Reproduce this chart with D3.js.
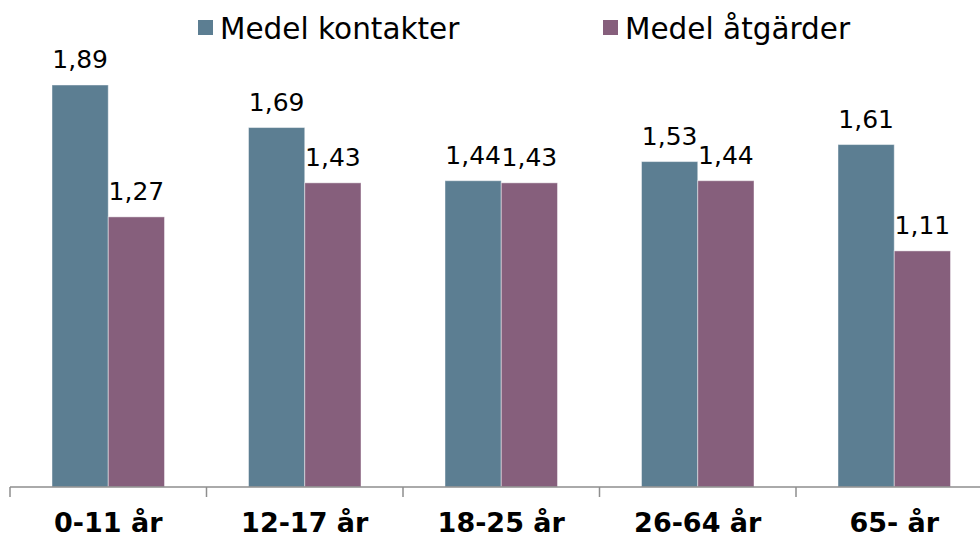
<!DOCTYPE html>
<html>
<head>
<meta charset="utf-8">
<script src="https://cdn.jsdelivr.net/npm/d3@7"></script>
<style>
  body { margin: 0; background: #fff; }
  svg { display: block; font-family: "DejaVu Sans", Verdana, sans-serif; }
</style>
</head>
<body>
<div id="chart"></div>
<script>
var categories = ["0-11 år", "12-17 år", "18-25 år", "26-64 år", "65- år"];
var series = ["Medel kontakter", "Medel åtgärder"];
var kontakter = [1.89, 1.69, 1.44, 1.53, 1.61];
var atgarder = [1.27, 1.43, 1.43, 1.44, 1.11];
var colors = ["#5c7e92", "#865f7c"];

var width = 980, height = 538;
var baseY = 487;

var svg = d3.select("#chart").append("svg")
    .attr("width", width)
    .attr("height", height);

// --
var x0 = d3.scaleBand()
    .domain(categories)
    .range([10, 992.5]);

var x1 = d3.scaleBand()
    .domain(series)
    .range([42, x0.bandwidth() - 42]);

var y = d3.scaleLinear()
    .domain([0, 2])
    .range([baseY, 61.6]);

var rows = categories.map(function(c, i) {
  return { cat: c, values: [kontakter[i], atgarder[i]] };
});

// bars
var groups = svg.selectAll("g.cat")
    .data(rows)
    .enter()
    .append("g")
    .attr("class", "cat")
    .attr("transform", function(d) { return "translate(" + x0(d.cat) + ",0)"; });

groups.selectAll("rect")
    .data(function(d) { return d.values.map(function(v, j) { return { s: series[j], v: v, j: j }; }); })
    .enter()
    .append("rect")
    .attr("x", function(d) { return x1(d.s); })
    .attr("y", function(d) { return y(d.v); })
    .attr("width", x1.bandwidth())
    .attr("height", function(d) { return baseY - y(d.v); })
    .attr("fill", function(d) { return colors[d.j]; })
    .attr("stroke", "rgba(255,255,255,0.45)")
    .attr("stroke-width", 1);

groups.selectAll("text.val")
    .data(function(d) { return d.values.map(function(v, j) { return { s: series[j], v: v }; }); })
    .enter()
    .append("text")
    .attr("class", "val")
    .attr("x", function(d) { return x1(d.s) + x1.bandwidth() / 2; })
    .attr("y", function(d) { return y(d.v) - 17; })
    .attr("text-anchor", "middle")
    .attr("font-size", 25)
    .attr("fill", "#000")
    .text(function(d) { return d.v.toFixed(2).replace(".", ","); });

// axis
var axis = svg.append("g");
axis.append("line")
    .attr("x1", 10).attr("x2", width)
    .attr("y1", baseY).attr("y2", baseY)
    .attr("stroke", "#8e8e8e")
    .attr("stroke-width", 1.5);

axis.selectAll("line.tick")
    .data(categories)
    .enter()
    .append("line")
    .attr("class", "tick")
    .attr("x1", function(d) { return x0(d); })
    .attr("x2", function(d) { return x0(d); })
    .attr("y1", baseY)
    .attr("y2", baseY + 10)
    .attr("stroke", "#8e8e8e")
    .attr("stroke-width", 1.5);

axis.selectAll("text")
    .data(categories)
    .enter()
    .append("text")
    .attr("x", function(d) { return x0(d) + x0.bandwidth() / 2; })
    .attr("y", 532)
    .attr("text-anchor", "middle")
    .attr("font-size", 27)
    .attr("font-weight", "bold")
    .attr("fill", "#000")
    .text(function(d) { return d; });

// legend
var legendX = [198, 603];
var legend = svg.selectAll("g.legend")
    .data(series)
    .enter()
    .append("g")
    .attr("class", "legend")
    .attr("transform", function(d, i) { return "translate(" + legendX[i] + ",0)"; });

legend.append("rect")
    .attr("x", 0).attr("y", 20)
    .attr("width", 15).attr("height", 15)
    .attr("fill", function(d, i) { return colors[i]; });

legend.append("text")
    .attr("x", 22)
    .attr("y", 39)
    .attr("font-size", 29.5)
    .attr("fill", "#000")
    .text(function(d) { return d; });
</script>
</body>
</html>
